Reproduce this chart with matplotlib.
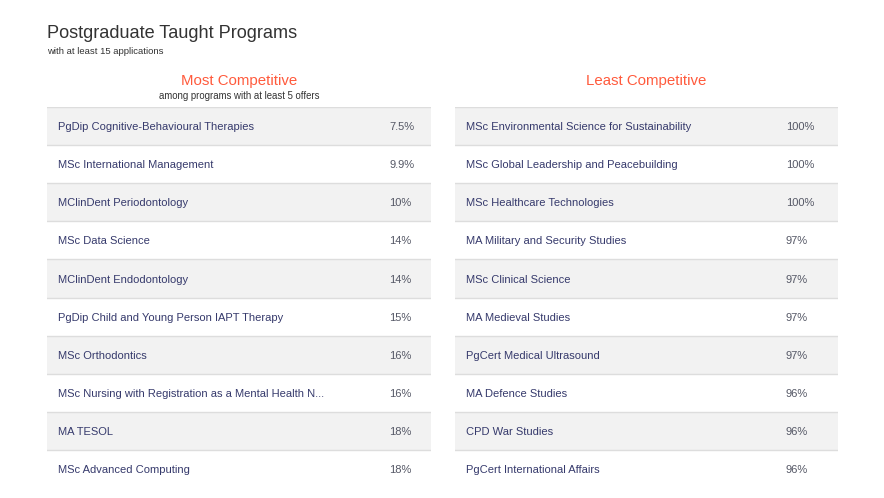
import matplotlib.pyplot as plt

plt.rcParams['font.family'] = ['Liberation Sans', 'DejaVu Sans']

most_names = [
    "PgDip Cognitive-Behavioural Therapies",
    "MSc International Management",
    "MClinDent Periodontology",
    "MSc Data Science",
    "MClinDent Endodontology",
    "PgDip Child and Young Person IAPT Therapy",
    "MSc Orthodontics",
    "MSc Nursing with Registration as a Mental Health N...",
    "MA TESOL",
    "MSc Advanced Computing",
]
most_rates = ["7.5%", "9.9%", "10%", "14%", "14%", "15%", "16%", "16%", "18%", "18%"]

least_names = [
    "MSc Environmental Science for Sustainability",
    "MSc Global Leadership and Peacebuilding",
    "MSc Healthcare Technologies",
    "MA Military and Security Studies",
    "MSc Clinical Science",
    "MA Medieval Studies",
    "PgCert Medical Ultrasound",
    "MA Defence Studies",
    "CPD War Studies",
    "PgCert International Affairs",
]
least_rates = ["100%", "100%", "100%", "97%", "97%", "97%", "97%", "96%", "96%", "96%"]

W, H = 884, 498
fig = plt.figure(figsize=(W / 100, H / 100), dpi=100)
fig.patch.set_facecolor('white')

NAME_COLOR = "#363a6c"
RATE_COLOR = "#555866"
HEAD_COLOR = "#ff5a3c"


def px_axes(x0, y0, x1, y1):
    # pixel box (top-left origin) -> figure axes
    return fig.add_axes([x0 / W, 1 - y1 / H, (x1 - x0) / W, (y1 - y0) / H])


def draw_table(ax, names, rates, rate_x):
    n = len(names)
    width = ax.get_position().width * W
    ax.set_xlim(0, width)
    ax.set_ylim(n, 0)
    ax.axis('off')
    for i, (name, rate) in enumerate(zip(names, rates)):
        if i % 2 == 0:
            ax.axhspan(i, i + 1, color="#f2f2f2", lw=0)
        ax.axhline(i, color="#dddddd", lw=1)
        ax.text(11, i + 0.53, name, ha='left', va='center', fontsize=8.0, color=NAME_COLOR)
        ax.text(rate_x, i + 0.53, rate, ha='left', va='center', fontsize=8.0, color=RATE_COLOR)


ax1 = px_axes(47, 107, 431, 488)
draw_table(ax1, most_names, most_rates, 342)
ax2 = px_axes(455, 107, 838, 488)
draw_table(ax2, least_names, least_rates, 331)

fig.text(47 / W, 1 - 34 / H, "Postgraduate Taught Programs", fontsize=13.1, color="#333333",
         ha='left', va='center')
fig.text(47 / W, 1 - 51 / H, "with at least 15 applications", fontsize=6.8, color="#333333",
         ha='left', va='center')
fig.text(239 / W, 1 - 81 / H, "Most Competitive", fontsize=10.8, color=HEAD_COLOR,
         ha='center', va='center')
fig.text(239 / W, 1 - 96 / H, "among programs with at least 5 offers", fontsize=6.9,
         color="#333333", ha='center', va='center')
fig.text(646 / W, 1 - 81 / H, "Least Competitive", fontsize=10.8, color=HEAD_COLOR,
         ha='center', va='center')

fig.savefig("out.png", dpi=100)
